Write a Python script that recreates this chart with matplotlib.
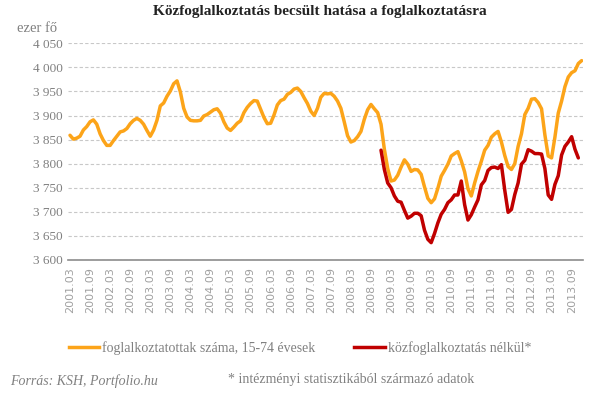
import matplotlib.pyplot as plt
from matplotlib.lines import Line2D

# monthly categories 2001.03 - 2013.12
months = []
for y in range(2001, 2014):
    for m in range(1, 13):
        if y == 2001 and m < 3:
            continue
        months.append(f"{y}.{m:02d}")

# foglalkoztatottak száma, 15-74 évesek (ezer fő)
employed = [3859, 3851, 3853, 3857, 3870, 3877, 3887, 3891, 3882, 3862,
            3848, 3838, 3838, 3848, 3857, 3866, 3868, 3873, 3883, 3890,
            3894, 3890, 3882, 3869, 3857, 3870, 3890, 3920, 3926, 3940,
            3951, 3966, 3972, 3949, 3915, 3897, 3890, 3889, 3889, 3890,
            3899, 3902, 3907, 3912, 3914, 3905, 3887, 3874, 3869, 3876,
            3884, 3889, 3906, 3917, 3925, 3931, 3930, 3913, 3896, 3883,
            3884, 3901, 3922, 3931, 3934, 3944, 3948, 3955, 3957, 3950,
            3937, 3925, 3909, 3900, 3915, 3938, 3946, 3945, 3946, 3940,
            3930, 3915, 3887, 3858, 3845, 3848, 3856, 3867, 3892, 3912,
            3923, 3914, 3906, 3882, 3830, 3790, 3764, 3766, 3776, 3793,
            3808, 3799, 3784, 3788, 3787, 3778, 3752, 3728, 3719, 3727,
            3749, 3774, 3786, 3799, 3816, 3821, 3825, 3806, 3783, 3748,
            3733, 3760, 3784, 3805, 3828, 3838, 3855, 3862, 3867, 3845,
            3817, 3794, 3788, 3800, 3836, 3862, 3902, 3915, 3934, 3935,
            3927, 3914, 3860, 3816, 3812, 3855, 3905, 3930, 3960, 3980,
            3989, 3993, 4008, 4014]

# közfoglalkoztatás nélkül, 2008.12-től
red_start = "2008.12"
without_public = [3828, 3788, 3760, 3750, 3733, 3722,
                  3720, 3703, 3687, 3691, 3697, 3697, 3692, 3662, 3643, 3636,
                  3655, 3677, 3695, 3705, 3719, 3725, 3735, 3735, 3764, 3715,
                  3683, 3694, 3710, 3725, 3756, 3765, 3786, 3792, 3793, 3790,
                  3798, 3745, 3699, 3705, 3736, 3760, 3799, 3807, 3829, 3826,
                  3821, 3821, 3820, 3790, 3735, 3726, 3757, 3775, 3818, 3836,
                  3845, 3856, 3830, 3812]

yticks = list(range(3600, 4051, 50))

orange = "#FCA419"
red = "#C00000"
gray = "#808080"
serif = "Liberation Serif"

fig = plt.figure(figsize=(6.15, 3.96), dpi=100)
ax = fig.add_axes([68 / 615, 1 - 260 / 396, 515 / 615, 216.7 / 396])

x = list(range(len(months)))
s = months.index(red_start)
ax.plot(x, employed, color=orange, lw=2.5, solid_joinstyle="round", solid_capstyle="round")
ax.plot(x[s:s + len(without_public)], without_public, color=red, lw=2.5,
        solid_joinstyle="round", solid_capstyle="round")

ax.set_ylim(3600, 4050)
ax.set_xlim(-0.6, len(months) - 0.6)
ax.set_yticks(yticks)
ax.set_yticklabels([f"{v:,}".replace(",", " ") for v in yticks],
                   fontfamily=serif, fontsize=9.5, color=gray)
ax.set_xticks(x[::6])
ax.set_xticklabels(months[::6], rotation=90, fontsize=8, color="#a0a0a0",
                   fontfamily="DejaVu Sans")
ax.tick_params(length=0, pad=4)
ax.tick_params(axis="x", pad=5)
ax.grid(axis="y", color="#c8c8c8", linestyle=(0, (3, 2)), lw=0.8)
for sp in ["top", "right", "left"]:
    ax.spines[sp].set_visible(False)
ax.spines["bottom"].set_color("#8c8c8c")
ax.spines["bottom"].set_linewidth(1.2)
ax.set_axisbelow(True)

fig.text(0.52, 1 - 12 / 396, "Közfoglalkoztatás becsült hatása a foglalkoztatásra",
         ha="center", va="center", fontfamily=serif, fontweight="bold",
         fontsize=11, color="#222222")
fig.text(57 / 615, 1 - 28 / 396, "ezer fő", ha="right", va="center",
         fontfamily=serif, fontsize=10.5, color=gray)

handles = [Line2D([], [], color=orange, lw=2.5),
           Line2D([], [], color=red, lw=2.5)]
fig.legend(handles, ["foglalkoztatottak száma, 15-74 évesek", "közfoglalkoztatás nélkül*"],
           loc="center", bbox_to_anchor=(300 / 615, 1 - 348 / 396), ncol=2,
           frameon=False, handlelength=2.2, handletextpad=0.2, columnspacing=2.8,
           prop={"family": serif, "size": 10}, labelcolor=gray)

fig.text(10 / 615, 1 - 381 / 396, "Forrás: KSH, Portfolio.hu", ha="left", va="center",
         fontfamily=serif, fontstyle="italic", fontsize=10, color=gray)
fig.text(228 / 615, 1 - 379 / 396, "* intézményi statisztikából származó adatok",
         ha="left", va="center", fontfamily=serif, fontsize=10, color=gray)

fig.savefig("out.png", dpi=100)
